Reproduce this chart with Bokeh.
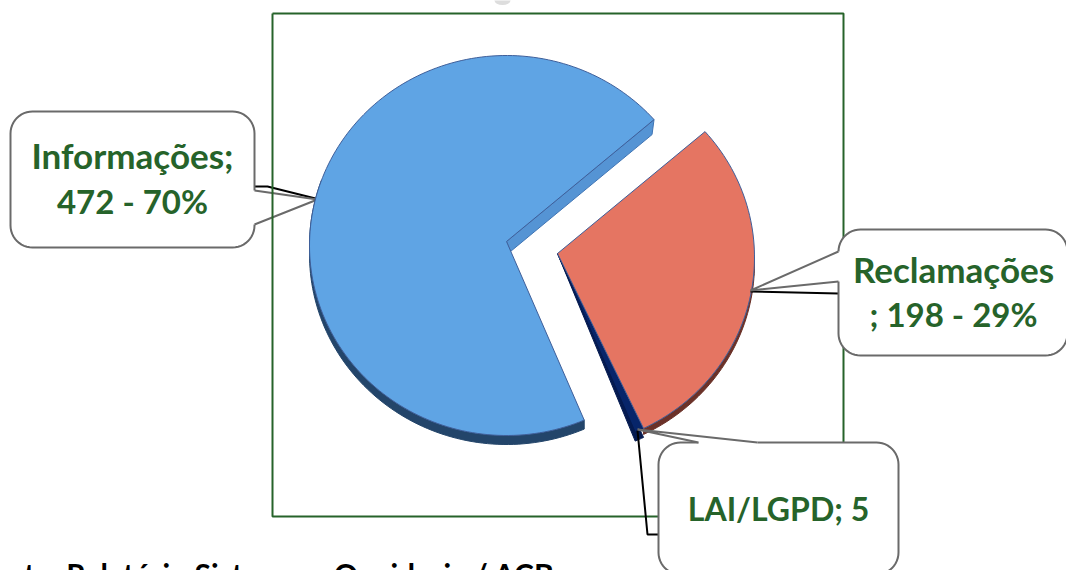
import math
from bokeh.plotting import figure
from bokeh.embed import file_html
from bokeh.resources import INLINE
from bokeh.core.properties import value

categories = ["Informações", "Reclamações", "LAI/LGPD"]
counts = [472, 198, 5]
label_lines = [["Informações;", "472 - 70%"], ["Reclamações", "; 198 - 29%"], ["LAI/LGPD; 5"]]
label_sizes = [["35px", "33px"], ["35px", "33px"], ["32px"]]
top_colors = ["#5FA4E4", "#E57562", "#07256A"]
rim_colors = ["#23456A", "#6B3128", "#041A50"]
footer = "Fonte: Relatório Sistema e-Ouvidoria / ACB"

GREEN = "#26632A"
W, H = 1066, 570
RX, RY = 197, 190
START = 41.5
# apex of each slice (exploded), ellipse centre lies 4px below it
centers = {"Informações": (506, 241), "Reclamações": (557, 253), "LAI/LGPD": (557, 253)}
depths = {"Informações": 9, "Reclamações": 6, "LAI/LGPD": 9}

p = figure(width=W, height=H, x_range=(0, W), y_range=(H, 0), output_backend="svg",
           toolbar_location=None, min_border=0, outline_line_color=None)
p.axis.visible = False
p.grid.visible = False


def arc(cx, cy, a0, a1):
    n = max(4, int(abs(a1 - a0) / 1.5))
    xs, ys = [], []
    for i in range(n + 1):
        a = math.radians(a0 + (a1 - a0) * i / n)
        xs.append(cx + RX * math.cos(a))
        ys.append(cy + 4 - RY * math.sin(a))
    return xs, ys


def rounded_box(x0, y0, x1, y1, r):
    xs, ys = [], []
    for cx, cy, a0 in [(x1 - r, y0 + r, -90), (x1 - r, y1 - r, 0), (x0 + r, y1 - r, 90), (x0 + r, y0 + r, 180)]:
        for i in range(13):
            a = math.radians(a0 + 90 * i / 12)
            xs.append(cx + r * math.cos(a))
            ys.append(cy + r * math.sin(a))
    return xs, ys


def callout(box, tip_a, tip, tip_b, leader):
    x0, y0, x1, y1 = box
    xs, ys = rounded_box(x0, y0, x1, y1, 22)
    p.line(leader[0], leader[1], line_color="black", line_width=2)
    p.patch(xs, ys, fill_color="white", line_color="#6A6A6A", line_width=2)
    px = [tip_a[0], tip[0], tip_b[0]]
    py = [tip_a[1], tip[1], tip_b[1]]
    p.patch(px, py, fill_color="white", line_color=None)
    # hide the box outline where the pointer joins it
    p.line([tip_a[0], tip_b[0]], [tip_a[1], tip_b[1]], line_color="white", line_width=3)
    p.line(px, py, line_color="#6A6A6A", line_width=2)


# slices, clockwise from START
total = sum(counts)
angles = {}
cur = START
for name, c in zip(["Reclamações", "LAI/LGPD", "Informações"], [counts[1], counts[2], counts[0]]):
    sweep = c / total * 360
    angles[name] = (cur, cur - sweep)
    cur -= sweep

# faint remnant of the clipped title
p.ellipse([502], [0], width=16, height=9, fill_color="#DDDDDD", line_color=None)

# Informações callout sits beneath the frame
callout((10, 111, 254, 247), (254, 190), (317, 199), (254, 224), ([254, 267, 315], [186, 186, 198]))

# frame
p.line([272, 843, 843, 272, 272], [13, 13, 516, 516, 13], line_color=GREEN, line_width=2)

# Informações
cx, cy = centers["Informações"]
a0, a1 = angles["Informações"]
d = depths["Informações"]
xs, ys = arc(cx, cy, a0, a1)
bx, by = arc(cx, cy, a0, -200)
p.patch(bx + bx[::-1], by + [y + d for y in by[::-1]], fill_color=rim_colors[0], line_color=rim_colors[0], line_width=1)
p.patch([cx, xs[-1], xs[-1] - 2, cx + 4], [cy, ys[-1], ys[-1] + 15, cy + 10],
        fill_color="#5594D4", line_color="#3F74B4", line_width=1)
p.patch([cx] + xs, [cy] + ys, fill_color=top_colors[0], line_color="#3F5F9A", line_width=1)

# LAI/LGPD
cx, cy = centers["LAI/LGPD"]
a0, a1 = angles["LAI/LGPD"]
d = depths["LAI/LGPD"]
xs, ys = arc(cx, cy, a0, a1)
p.patch([cx] + xs, [cy] + [y + d for y in ys], fill_color=rim_colors[2], line_color=rim_colors[2], line_width=1)
p.patch([cx] + xs, [cy] + ys, fill_color=top_colors[2], line_color=rim_colors[2], line_width=1)

# Reclamações
cx, cy = centers["Reclamações"]
a0, a1 = angles["Reclamações"]
d = depths["Reclamações"]
xs, ys = arc(cx, cy, a0, a1)
bx, by = arc(cx, cy, 0, a1)
p.patch(bx + bx[::-1], by + [y + d for y in by[::-1]], fill_color=rim_colors[1], line_color=rim_colors[1], line_width=1)
p.patch([cx] + xs, [cy] + ys, fill_color=top_colors[1], line_color="#3F5F9A", line_width=1)

callout((838, 229, 1067, 355), (838, 251), (750, 290), (838, 281), ([750, 838], [291, 293]))
callout((658, 442, 898, 574), (698, 442), (637, 429), (757, 442), ([637, 647, 658], [430, 534, 534]))

# labels
label_pos = {"Informações": (132, [154, 200]), "Reclamações": (953, [268, 313]), "LAI/LGPD": (778, [508])}
for name, lines, sizes in zip(categories, label_lines, label_sizes):
    x, ys = label_pos[name]
    for line, y, size in zip(lines, ys, sizes):
        p.text([x], [y], text=[line], text_color=GREEN, text_font=value("Lato"), text_font_style="bold",
               text_font_size=size, text_align="center", text_baseline="alphabetic")

p.text([-26], [573], text=[footer], text_color="black", text_font=value("Lato"), text_font_style="bold",
       text_font_size="30px", text_align="left", text_baseline="alphabetic")

open("out.html", "w").write(file_html(p, INLINE))
